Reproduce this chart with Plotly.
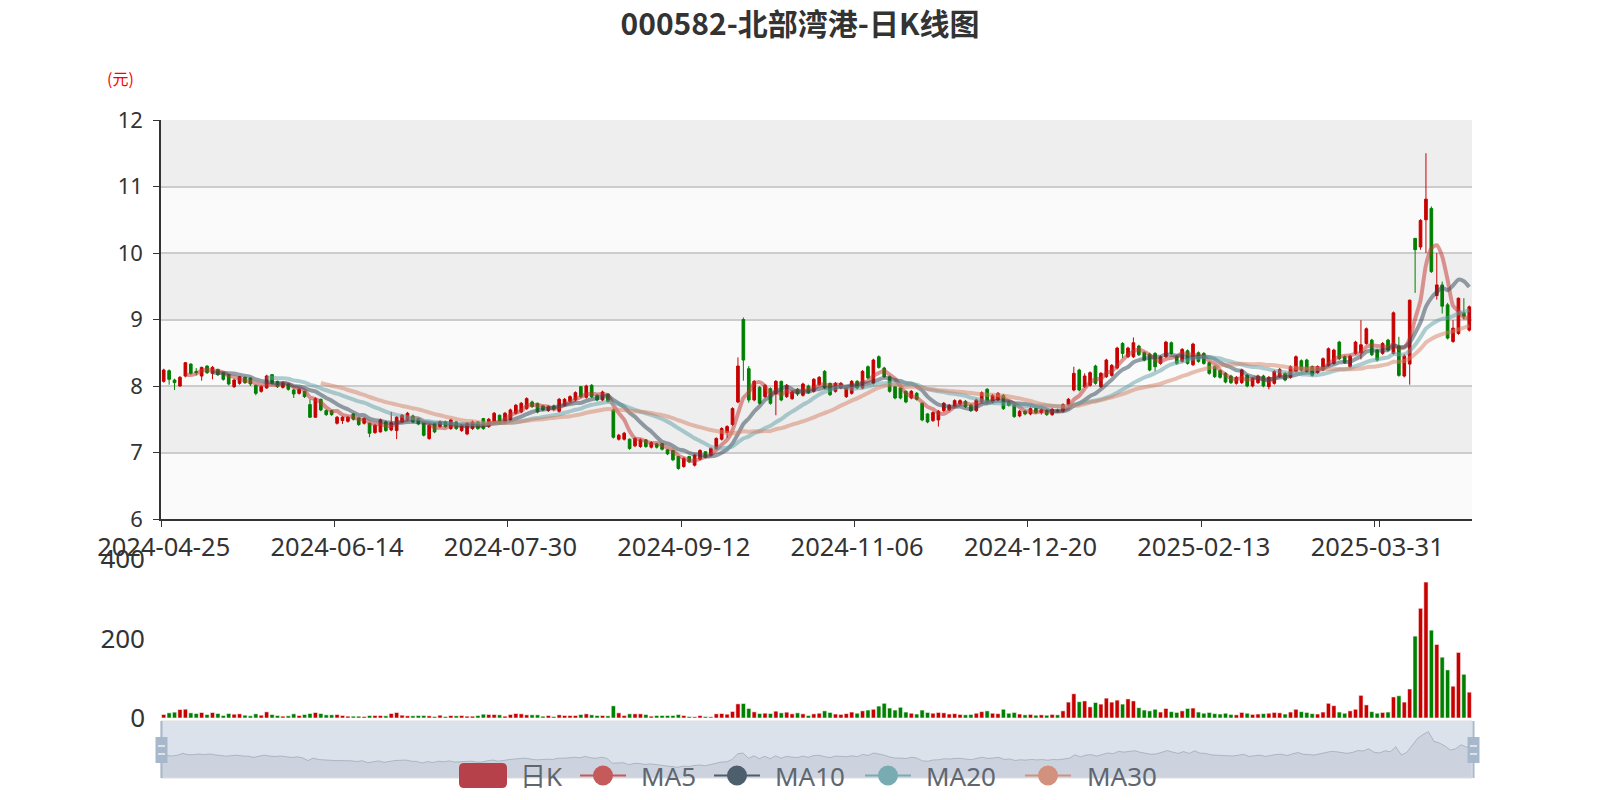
import pandas as pd
import plotly.graph_objects as go

# ---------------- data ----------------
holidays = ['2024-05-01', '2024-05-02', '2024-05-03', '2024-06-10', '2024-09-16', '2024-09-17',
            '2024-10-01', '2024-10-02', '2024-10-03', '2024-10-04', '2024-10-07',
            '2025-01-01', '2025-01-28', '2025-01-29', '2025-01-30', '2025-01-31',
            '2025-02-03', '2025-02-04', '2025-04-04']
dates = [d.strftime('%Y-%m-%d') for d in pd.bdate_range('2024-04-25', '2025-04-24')
         if d.strftime('%Y-%m-%d') not in holidays]

tick_labels = ['2024-04-25', '2024-06-14', '2024-07-30', '2024-09-12',
               '2024-11-06', '2024-12-20', '2025-02-13', '2025-03-31']

open_ = [
    8.07, 8.23, 8.09, 8.00, 8.15, 8.33, 8.22, 8.15, 8.30, 8.19,
    8.25, 8.20, 8.17, 7.99, 8.04, 8.13, 8.12, 8.01, 7.92, 7.97,
    8.17, 8.07, 7.98, 8.03, 7.94, 7.89, 7.92, 7.72, 7.53, 7.80,
    7.63, 7.63, 7.44, 7.48, 7.47, 7.58, 7.52, 7.44, 7.44, 7.30,
    7.31, 7.46, 7.34, 7.33, 7.46, 7.50, 7.55, 7.51, 7.44, 7.21,
    7.44, 7.39, 7.46, 7.36, 7.46, 7.33, 7.28, 7.36, 7.46, 7.51,
    7.39, 7.46, 7.56, 7.46, 7.49, 7.59, 7.61, 7.66, 7.76, 7.74,
    7.70, 7.63, 7.70, 7.62, 7.71, 7.77, 7.79, 7.99, 7.83, 8.01,
    7.86, 7.79, 7.88, 7.64, 7.20, 7.20, 7.20, 7.10, 7.09, 7.19,
    7.08, 7.13, 7.13, 7.04, 7.03, 6.94, 6.79, 6.94, 6.81, 6.90,
    7.01, 6.96, 7.06, 7.20, 7.30, 7.42, 7.76, 9.00, 8.26, 7.79,
    7.98, 7.84, 7.96, 7.88, 8.07, 7.84, 7.81, 7.95, 7.86, 8.00,
    7.92, 8.02, 8.22, 8.04, 7.92, 7.97, 7.84, 7.89, 8.07, 7.97,
    8.29, 8.04, 8.44, 8.27, 8.14, 7.99, 7.97, 7.92, 7.82, 7.89,
    7.74, 7.58, 7.48, 7.49, 7.63, 7.64, 7.70, 7.73, 7.77, 7.71,
    7.63, 7.76, 7.95, 7.76, 7.79, 7.86, 7.76, 7.71, 7.55, 7.62,
    7.58, 7.66, 7.60, 7.63, 7.57, 7.64, 7.62, 7.72, 7.94, 8.24,
    7.99, 8.01, 8.30, 7.99, 8.14, 8.16, 8.27, 8.64, 8.44, 8.44,
    8.60, 8.50, 8.48, 8.49, 8.34, 8.44, 8.65, 8.44, 8.37, 8.53,
    8.32, 8.50, 8.49, 8.35, 8.29, 8.23, 8.19, 8.15, 8.04, 8.05,
    8.16, 8.00, 8.05, 8.15, 7.99, 8.04, 8.14, 8.19, 8.13, 8.22,
    8.38, 8.39, 8.29, 8.20, 8.24, 8.31, 8.34, 8.66, 8.44, 8.29,
    8.49, 8.50, 8.64, 8.69, 8.54, 8.49, 8.69, 8.49, 8.60, 8.15,
    8.33, 10.22, 10.09, 10.50, 10.67, 9.36, 9.52, 9.22, 8.67, 8.79,
    9.10, 8.84]

close = [
    8.24, 8.10, 8.05, 8.13, 8.35, 8.19, 8.20, 8.28, 8.20, 8.28,
    8.17, 8.10, 8.03, 8.09, 8.14, 8.05, 8.03, 7.89, 7.99, 8.15,
    8.04, 7.99, 8.05, 7.95, 7.88, 7.95, 7.84, 7.53, 7.81, 7.64,
    7.57, 7.57, 7.53, 7.53, 7.53, 7.50, 7.42, 7.51, 7.29, 7.41,
    7.49, 7.33, 7.45, 7.53, 7.56, 7.59, 7.46, 7.43, 7.26, 7.41,
    7.31, 7.46, 7.39, 7.49, 7.36, 7.41, 7.44, 7.46, 7.36, 7.36,
    7.50, 7.59, 7.46, 7.59, 7.64, 7.71, 7.74, 7.81, 7.69, 7.61,
    7.64, 7.69, 7.65, 7.80, 7.80, 7.84, 7.90, 7.84, 8.00, 7.84,
    7.79, 7.91, 7.77, 7.23, 7.26, 7.29, 7.06, 7.21, 7.19, 7.09,
    7.15, 7.08, 7.05, 6.98, 6.89, 6.76, 6.91, 6.86, 6.96, 7.03,
    6.93, 7.06, 7.21, 7.36, 7.39, 7.66, 8.30, 8.39, 7.79, 8.07,
    7.74, 8.01, 7.74, 8.07, 7.79, 8.01, 7.91, 7.88, 8.03, 7.90,
    8.10, 8.13, 7.97, 7.87, 8.04, 8.04, 7.97, 8.07, 7.97, 8.22,
    8.12, 8.39, 8.28, 8.14, 7.92, 7.82, 7.82, 7.76, 7.92, 7.80,
    7.49, 7.46, 7.60, 7.62, 7.74, 7.71, 7.78, 7.78, 7.69, 7.63,
    7.79, 7.90, 7.76, 7.86, 7.89, 7.66, 7.71, 7.54, 7.62, 7.58,
    7.66, 7.60, 7.64, 7.57, 7.65, 7.62, 7.72, 7.80, 8.19, 7.94,
    8.15, 8.20, 8.04, 8.19, 8.39, 8.31, 8.57, 8.49, 8.57, 8.65,
    8.47, 8.39, 8.24, 8.29, 8.44, 8.66, 8.49, 8.34, 8.55, 8.34,
    8.63, 8.37, 8.34, 8.19, 8.14, 8.13, 8.06, 8.05, 8.13, 8.24,
    8.00, 8.11, 8.15, 8.00, 8.13, 8.22, 8.25, 8.09, 8.29, 8.44,
    8.24, 8.22, 8.16, 8.29, 8.41, 8.56, 8.54, 8.41, 8.35, 8.45,
    8.66, 8.62, 8.86, 8.47, 8.39, 8.64, 8.54, 9.10, 8.16, 8.45,
    9.29, 10.05, 10.49, 10.81, 9.72, 9.52, 9.20, 8.72, 8.87, 9.32,
    9.05, 9.19]

high = [
    8.26, 8.25, 8.11, 8.15, 8.36, 8.34, 8.27, 8.29, 8.31, 8.30,
    8.26, 8.21, 8.18, 8.11, 8.15, 8.14, 8.13, 8.02, 8.01, 8.17,
    8.18, 8.08, 8.07, 8.04, 7.96, 7.97, 7.93, 7.80, 7.83, 7.81,
    7.65, 7.64, 7.55, 7.55, 7.55, 7.59, 7.53, 7.53, 7.45, 7.43,
    7.51, 7.48, 7.61, 7.55, 7.58, 7.61, 7.57, 7.52, 7.45, 7.43,
    7.45, 7.48, 7.48, 7.51, 7.47, 7.43, 7.46, 7.48, 7.47, 7.52,
    7.52, 7.61, 7.57, 7.61, 7.66, 7.73, 7.76, 7.83, 7.78, 7.75,
    7.71, 7.71, 7.72, 7.82, 7.82, 7.86, 7.92, 8.00, 8.02, 8.03,
    7.88, 7.93, 7.89, 7.66, 7.28, 7.31, 7.21, 7.23, 7.21, 7.20,
    7.17, 7.14, 7.14, 7.05, 7.04, 6.95, 6.93, 6.95, 6.98, 7.05,
    7.02, 7.08, 7.23, 7.38, 7.41, 7.68, 8.43, 9.03, 8.30, 8.09,
    8.00, 8.03, 7.98, 8.09, 8.08, 8.03, 7.93, 7.97, 8.05, 8.02,
    8.12, 8.15, 8.24, 8.05, 8.06, 8.06, 7.99, 8.09, 8.09, 8.24,
    8.31, 8.41, 8.46, 8.29, 8.16, 8.00, 7.98, 7.93, 7.94, 7.91,
    7.75, 7.59, 7.62, 7.64, 7.76, 7.73, 7.80, 7.80, 7.79, 7.73,
    7.81, 7.92, 7.97, 7.88, 7.91, 7.88, 7.78, 7.72, 7.64, 7.64,
    7.68, 7.67, 7.66, 7.65, 7.67, 7.66, 7.74, 7.82, 8.29, 8.26,
    8.19, 8.22, 8.32, 8.21, 8.41, 8.33, 8.59, 8.66, 8.59, 8.73,
    8.62, 8.52, 8.50, 8.51, 8.46, 8.68, 8.67, 8.46, 8.57, 8.55,
    8.65, 8.52, 8.51, 8.37, 8.31, 8.25, 8.21, 8.17, 8.15, 8.26,
    8.18, 8.13, 8.17, 8.17, 8.15, 8.24, 8.27, 8.21, 8.31, 8.46,
    8.40, 8.41, 8.31, 8.31, 8.43, 8.58, 8.56, 8.68, 8.46, 8.47,
    8.68, 8.99, 8.88, 8.71, 8.56, 8.66, 8.71, 9.12, 8.74, 8.48,
    9.30, 10.22, 10.51, 11.50, 10.70, 10.00, 9.57, 9.25, 8.99, 9.33,
    9.32, 9.21]

low = [
    8.05, 8.02, 7.94, 7.99, 8.13, 8.17, 8.16, 8.08, 8.18, 8.10,
    8.15, 8.08, 8.01, 7.97, 8.02, 8.03, 8.00, 7.86, 7.90, 7.96,
    8.02, 7.97, 7.96, 7.93, 7.82, 7.87, 7.82, 7.52, 7.52, 7.62,
    7.55, 7.55, 7.42, 7.43, 7.45, 7.48, 7.40, 7.42, 7.23, 7.28,
    7.30, 7.31, 7.32, 7.20, 7.44, 7.48, 7.44, 7.41, 7.24, 7.19,
    7.29, 7.37, 7.37, 7.34, 7.34, 7.31, 7.26, 7.34, 7.34, 7.34,
    7.37, 7.44, 7.44, 7.44, 7.47, 7.57, 7.59, 7.64, 7.67, 7.59,
    7.62, 7.61, 7.62, 7.60, 7.69, 7.75, 7.77, 7.82, 7.81, 7.82,
    7.77, 7.77, 7.75, 7.21, 7.18, 7.18, 7.04, 7.08, 7.07, 7.07,
    7.06, 7.06, 7.03, 6.96, 6.87, 6.74, 6.77, 6.84, 6.79, 6.88,
    6.91, 6.94, 7.04, 7.18, 7.22, 7.40, 7.74, 8.08, 7.75, 7.77,
    7.72, 7.82, 7.72, 7.56, 7.77, 7.82, 7.79, 7.85, 7.84, 7.88,
    7.90, 8.00, 7.95, 7.85, 7.90, 7.95, 7.82, 7.87, 7.95, 7.95,
    8.10, 8.02, 8.26, 8.12, 7.90, 7.80, 7.80, 7.74, 7.80, 7.78,
    7.47, 7.44, 7.46, 7.39, 7.61, 7.62, 7.68, 7.71, 7.67, 7.61,
    7.61, 7.74, 7.74, 7.74, 7.77, 7.64, 7.69, 7.52, 7.53, 7.56,
    7.56, 7.58, 7.57, 7.55, 7.55, 7.60, 7.60, 7.70, 7.92, 7.92,
    7.97, 7.99, 8.02, 7.97, 8.12, 8.14, 8.25, 8.42, 8.42, 8.42,
    8.45, 8.37, 8.22, 8.22, 8.32, 8.42, 8.47, 8.32, 8.35, 8.32,
    8.30, 8.35, 8.32, 8.17, 8.12, 8.11, 8.04, 8.03, 8.02, 8.03,
    7.98, 7.98, 8.03, 7.98, 7.95, 8.02, 8.12, 8.07, 8.11, 8.20,
    8.22, 8.20, 8.14, 8.18, 8.22, 8.29, 8.32, 8.39, 8.33, 8.27,
    8.47, 8.40, 8.62, 8.45, 8.37, 8.47, 8.52, 8.47, 8.14, 8.13,
    8.02, 9.40, 10.05, 10.00, 9.70, 9.30, 9.09, 8.70, 8.65, 8.77,
    9.00, 8.82]

volume = [
    8.8, 13, 14.7, 21.4, 22.2, 13, 11.3, 13.8, 8.8, 13.8,
    11.3, 6.3, 11.3, 9.6, 10.5, 7.1, 5.5, 10.5, 7.1, 15.5,
    8.8, 6.3, 4.6, 5.5, 10.5, 6.3, 8.8, 11.3, 13.8, 11.3,
    8.0, 8.0, 8.8, 6.3, 4.6, 4.6, 4.6, 3.8, 6.3, 6.3,
    6.3, 5.5, 11.3, 13.8, 7.1, 5.5, 5.5, 6.3, 6.3, 5.5,
    3.8, 7.1, 3.8, 6.3, 5.5, 6.3, 4.6, 4.6, 6.3, 9.6,
    8.8, 8.8, 8.0, 4.6, 8.8, 11.3, 10.5, 8.0, 8.0, 8.0,
    4.6, 6.3, 3.8, 8.0, 6.3, 6.3, 6.3, 8.8, 10.5, 8.0,
    6.3, 6.3, 5.5, 30.6, 13.0, 6.3, 10.5, 10.5, 10.5, 8.8,
    4.6, 6.3, 6.3, 6.3, 6.3, 8.8, 6.3, 3.8, 3.0, 6.3,
    3.8, 3.0, 10.5, 11.3, 9.6, 16.4, 35.6, 36.5, 24.0, 15.5,
    11.3, 12.2, 11.3, 17.2, 13.0, 14.7, 10.5, 13.0, 10.5, 6.3,
    10.5, 12, 18, 14, 10, 9, 11, 15, 12, 18,
    20, 22, 30, 37, 25, 20, 27, 15, 12, 10,
    20, 14, 12, 14, 13, 10, 11, 9, 8, 9,
    12, 16, 18, 12, 11, 22, 12, 14, 10, 8,
    9, 7, 8, 7, 9, 8, 18, 40, 61, 41,
    43, 28, 39, 35, 50, 40, 45, 35, 48, 43,
    26, 20, 18, 22, 15, 24, 16, 14, 18, 24,
    25, 15, 12, 14, 11, 10, 12, 9, 8, 14,
    12, 9, 10, 11, 12, 14, 13, 10, 15, 22,
    16, 14, 11, 10, 15, 37, 31, 15, 12, 18,
    22, 57, 33, 16, 12, 14, 15, 53, 56, 40,
    73, 206, 276, 342, 221, 185, 153, 121, 80, 165,
    110, 65]

ma_windows = [5, 10, 20, 30]
ma_names = ['MA5', 'MA10', 'MA20', 'MA30']
ma_colors = ['#c23531', '#2f4554', '#61a0a8', '#d48265']
legend_labels = ['日K'] + ma_names

# ---------------- styling ----------------
W, H = 1600, 800
UP, DOWN = '#c80000', '#008000'
FONT = 'Noto Sans, Open Sans, sans-serif'
CJK = 'Noto Sans CJK SC, sans-serif'
LEGFONT = 'Noto Sans, Noto Sans CJK SC, sans-serif'


def px_x(v):
    return v / W


def px_y(v):
    return 1 - v / H


X_DOM = [px_x(161), px_x(1472)]
N = len(dates)
s_close = pd.Series(close)
mas = [s_close.rolling(n).mean().round(3).tolist() for n in ma_windows]
bar_colors = [UP if c >= o else DOWN for o, c in zip(open_, close)]

fig = go.Figure()

fig.add_trace(go.Candlestick(
    x=dates, open=open_, high=high, low=low, close=close,
    increasing=dict(line=dict(color=UP, width=1), fillcolor=UP),
    decreasing=dict(line=dict(color=DOWN, width=1), fillcolor=DOWN),
    whiskerwidth=0, showlegend=False, name='日K', xaxis='x', yaxis='y'))

for name, col, vals in zip(ma_names, ma_colors, mas):
    fig.add_trace(go.Scatter(
        x=dates, y=vals, mode='lines', name=name, showlegend=False,
        line=dict(color=col, width=4, shape='spline', smoothing=0.6),
        opacity=0.5, xaxis='x', yaxis='y', hoverinfo='skip'))

fig.add_trace(go.Bar(
    x=dates, y=volume,
    marker=dict(color=bar_colors, line=dict(color='rgba(255,255,255,0.55)', width=1)),
    width=0.78, showlegend=False, name='成交量', xaxis='x2', yaxis='y2'))

# data shadow of the zoom slider
lo, hi = min(close), max(close)
pad = (hi - lo) * 0.3
fig.add_trace(go.Scatter(
    x=dates, y=close, mode='lines', fill='tozeroy',
    fillcolor='rgba(47,69,84,0.13)', line=dict(color='rgba(47,69,84,0.35)', width=1),
    showlegend=False, hoverinfo='skip', xaxis='x3', yaxis='y3'))

shapes = []
for k in range(6):
    shapes.append(dict(type='rect', xref='x domain', yref='y', x0=0, x1=1, y0=6 + k, y1=7 + k,
                       fillcolor='#fafafa' if k % 2 == 0 else '#eeeeee', line=dict(width=0),
                       layer='below'))
# slider filler + border
sl_top, sl_bot = 721, 778
shapes.append(dict(type='rect', xref='paper', yref='paper', x0=X_DOM[0], x1=X_DOM[1],
                   y0=px_y(sl_bot), y1=px_y(sl_top), fillcolor='rgba(167,183,204,0.4)',
                   line=dict(color='#dddddd', width=1), layer='above'))
for hx in (161.5, 1473.5):
    shapes.append(dict(type='line', xref='paper', yref='paper', x0=px_x(hx), x1=px_x(hx),
                       y0=px_y(sl_bot), y1=px_y(sl_top), line=dict(color='#a7b7cc', width=2),
                       layer='above'))
    shapes.append(dict(type='rect', xref='paper', yref='paper', x0=px_x(hx - 6), x1=px_x(hx + 6),
                       y0=px_y(763), y1=px_y(737), fillcolor='#a7b7cc', line=dict(width=0),
                       layer='above'))
    for yy in (746, 754):
        shapes.append(dict(type='line', xref='paper', yref='paper', x0=px_x(hx - 3.5),
                           x1=px_x(hx + 3.5), y0=px_y(yy), y1=px_y(yy),
                           line=dict(color='white', width=1.2), layer='above'))

# legend (drawn like the ECharts legend: round-rect for 日K, line + circle for MAs)
LEG_Y = 775.5
icon_left = [459, 580, 714, 865, 1025]
text_left = [518, 639, 773, 924, 1085]
legend_icon_colors = ['#b7414a', '#c45a5a', '#4d5e6c', '#78abb2', '#d2917c']
annotations = [dict(text='(元)', x=px_x(120), y=px_y(78), xref='paper', yref='paper',
                    xanchor='center', yanchor='middle', showarrow=False,
                    font=dict(family=CJK, size=16, color='#ff0000'))]
x0, x1, y0, y1, r = 459, 507, 763, 788, 5
path = (f'M {px_x(x0 + r)},{px_y(y0)} L {px_x(x1 - r)},{px_y(y0)} '
        f'Q {px_x(x1)},{px_y(y0)} {px_x(x1)},{px_y(y0 + r)} L {px_x(x1)},{px_y(y1 - r)} '
        f'Q {px_x(x1)},{px_y(y1)} {px_x(x1 - r)},{px_y(y1)} L {px_x(x0 + r)},{px_y(y1)} '
        f'Q {px_x(x0)},{px_y(y1)} {px_x(x0)},{px_y(y1 - r)} L {px_x(x0)},{px_y(y0 + r)} '
        f'Q {px_x(x0)},{px_y(y0)} {px_x(x0 + r)},{px_y(y0)} Z')
shapes.append(dict(type='path', xref='paper', yref='paper', path=path,
                   fillcolor=legend_icon_colors[0], line=dict(width=0), layer='above'))
for k in range(1, 5):
    xl = icon_left[k]
    c = legend_icon_colors[k]
    shapes.append(dict(type='line', xref='paper', yref='paper', x0=px_x(xl), x1=px_x(xl + 46),
                       y0=px_y(LEG_Y), y1=px_y(LEG_Y), line=dict(color=c, width=2), layer='above'))
    shapes.append(dict(type='circle', xref='paper', yref='paper', x0=px_x(xl + 13),
                       x1=px_x(xl + 33), y0=px_y(LEG_Y + 10), y1=px_y(LEG_Y - 10),
                       fillcolor=c, line=dict(width=0), layer='above'))
for k, lab in enumerate(legend_labels):
    annotations.append(dict(text=lab, x=px_x(text_left[k]), y=px_y(LEG_Y), xref='paper',
                            yref='paper', xanchor='left', yanchor='middle', showarrow=False,
                            font=dict(family=LEGFONT, size=26, color='#5f6670')))

tickfont_x = dict(family=FONT, size=25.5, color='#333')
tickfont_y = dict(family=FONT, size=22, color='#333')
tickfont_v = dict(family=FONT, size=26, color='#333')

fig.update_layout(
    width=W, height=H, margin=dict(l=0, r=0, t=0, b=0, autoexpand=False),
    paper_bgcolor='white', plot_bgcolor='white', showlegend=False,
    title=dict(text='<b>000582-北部湾港-日K线图</b>', x=0.5, xanchor='center',
               y=px_y(24), yanchor='middle', font=dict(family=CJK, size=30, color='#333')),
    shapes=shapes, annotations=annotations,
    xaxis=dict(domain=X_DOM, anchor='y', type='category', categoryorder='array',
               categoryarray=dates, range=[-0.5, N - 0.5], tickmode='array',
               tickvals=tick_labels, ticktext=tick_labels, ticks='outside', ticklen=6,
               tickcolor='#333', tickson='boundaries', tickangle=0, automargin=False,
               showline=True, linecolor='#333', linewidth=1.5, showgrid=False,
               tickfont=tickfont_x, rangeslider=dict(visible=False), fixedrange=True,
               ticklabelstandoff=5),
    yaxis=dict(domain=[px_y(519), px_y(120)], anchor='x', range=[6, 12], tick0=6, dtick=1,
               ticks='outside', ticklen=6, tickcolor='#333', showline=True, linecolor='#333',
               linewidth=1.5, showgrid=True, gridcolor='#cccccc', gridwidth=1.5, zeroline=False,
               tickfont=tickfont_y, automargin=False, ticklabelstandoff=6),
    xaxis2=dict(domain=X_DOM, anchor='y2', type='category', categoryorder='array',
                categoryarray=dates, range=[-0.5, N - 0.5], showticklabels=False,
                showline=False, showgrid=False, ticks='', automargin=False),
    yaxis2=dict(domain=[px_y(718), px_y(559)], anchor='x2', range=[0, 400],
                tickvals=[0, 200, 400], showgrid=False, showline=False, zeroline=False,
                ticks='', tickfont=tickfont_v, automargin=False, ticklabelstandoff=15),
    xaxis3=dict(domain=X_DOM, anchor='y3', type='category', categoryorder='array',
                categoryarray=dates, range=[0, N - 1], visible=False, automargin=False),
    yaxis3=dict(domain=[px_y(sl_bot), px_y(sl_top)], anchor='x3', range=[lo - pad, hi + pad],
                visible=False, automargin=False),
    bargap=0.2,
)

fig.write_html('out.html', config={'displayModeBar': False},
               post_script="document.body.style.margin='0';document.body.style.overflow='hidden';")
